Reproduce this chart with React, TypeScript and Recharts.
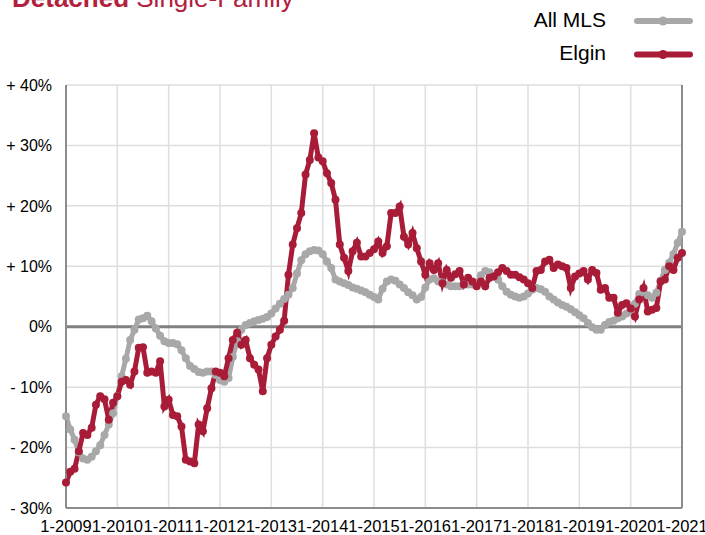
import {
  CartesianGrid,
  Line,
  LineChart,
  ReferenceLine,
  XAxis,
  YAxis,
} from "recharts";

// monthly categories, Jan 2009 .. Jan 2021
const startYear = 2009;
const monthCount = 145;
const months = Array.from(
  { length: monthCount },
  (_, i) => `${(i % 12) + 1}-${startYear + Math.floor(i / 12)}`
);

const yTicks = [-30, -20, -10, 0, 10, 20, 30, 40];

// year-over-year change, %
const allMls = [
  -14.8, -17.0, -18.7, -20.8, -21.8, -22.0, -21.5, -20.6, -19.6, -17.9, -16.2, -14.3,
  -11.5, -8.2, -5.3, -2.2, -0.5, 1.2, 1.4, 1.8, 0.9, -0.3, -1.5, -2.4,
  -2.7, -2.7, -2.9, -3.9, -5.2, -6.5, -7.0, -7.5, -7.6, -7.4, -7.4, -8.0,
  -8.8, -9.1, -8.5, -5.0, -2.4, -0.5, 0.3, 0.6, 0.9, 1.1, 1.3, 1.6,
  2.2, 3.0, 3.8, 4.6, 5.3, 6.4, 8.8, 11.0, 12.0, 12.5, 12.7, 12.6,
  12.0, 10.8, 9.7, 7.8, 7.5, 7.2, 6.9, 6.5, 6.3, 6.0, 5.7, 5.3,
  4.9, 4.5, 6.3, 7.5, 7.8, 7.6, 7.0, 6.4, 5.7, 5.2, 4.5, 4.9,
  6.5, 7.8, 8.0, 7.5, 7.3, 7.0, 6.7, 6.7, 6.7, 7.0, 7.0, 7.0,
  7.2, 8.5, 9.2, 9.0, 8.4, 7.8, 6.7, 5.8, 5.3, 5.0, 4.8, 5.0,
  5.5, 6.1, 6.4, 6.2, 5.8, 5.0, 4.5, 4.0, 3.6, 3.3, 2.9, 2.4,
  1.9, 1.4, 0.6, -0.1, -0.5, -0.5, 0.3, 0.8, 1.0, 1.4, 1.7, 2.2,
  2.4, 3.8, 5.4, 5.8, 5.2, 4.8, 5.6, 7.6, 9.4, 10.6, 12.0, 13.9,
  15.7,
];

const elgin = [
  -25.8, -24.0, -23.5, -20.6, -17.6, -17.9, -16.7, -12.9, -11.5, -12.0, -15.4, -12.6,
  -11.5, -9.1, -8.8, -9.6, -7.4, -3.5, -3.4, -7.6, -7.4, -7.6, -5.7, -13.2,
  -12.1, -14.6, -14.8, -16.5, -22.0, -22.3, -22.6, -16.2, -17.3, -13.5, -10.2, -7.4,
  -7.6, -8.2, -5.2, -2.2, -1.0, -3.0, -2.2, -5.2, -6.3, -7.1, -10.7, -5.2,
  -3.0, -1.6, -0.5, 1.0, 8.6, 13.6, 16.3, 18.8, 25.2, 27.6, 32.0, 28.0,
  27.4, 25.4, 23.8, 21.0, 13.6, 11.4, 9.2, 12.5, 13.9, 11.6, 11.6, 12.2,
  12.8, 14.1, 12.2, 13.3, 18.8, 18.8, 19.9, 14.9, 13.6, 15.5, 13.0, 10.8,
  8.6, 10.5, 9.4, 10.5, 7.2, 9.4, 8.1, 8.7, 9.2, 7.0, 8.1, 7.5,
  6.7, 7.5, 6.7, 8.1, 8.3, 9.0, 9.7, 9.2, 8.6, 8.6, 8.2, 7.8,
  7.2, 6.4, 9.2, 9.4, 10.8, 11.1, 9.7, 10.3, 10.0, 9.7, 6.4, 8.3,
  8.8, 9.2, 7.8, 9.4, 8.9, 6.1, 6.4, 4.8, 4.8, 2.3, 3.6, 3.9,
  3.0, 1.7, 4.5, 6.4, 2.5, 2.8, 3.1, 7.5, 7.8, 10.0, 9.4, 11.4,
  12.2,
];

const GRAY = "#a8a8a8";
const RED = "#a81c38";

const data = months.map((month, i) => ({
  month,
  allMls: allMls[i],
  elgin: elgin[i],
}));

const fmtPct = (v: number) => (v > 0 ? `+ ${v}%` : v < 0 ? `- ${-v}%` : "0%");

export default function App() {
  return (
    <div
      style={{
        position: "absolute",
        left: 0,
        top: 0,
        width: 705,
        height: 535,
        overflow: "hidden",
        background: "#fff",
        fontFamily: "'Liberation Sans', Arial, sans-serif",
      }}
    >
      <LineChart
        width={705}
        height={535}
        data={data}
        margin={{ top: 85, right: 23, bottom: 0, left: 0 }}
      >
        <CartesianGrid stroke="#dedede" strokeWidth={1.5} />
        <XAxis
          dataKey="month"
          interval={11}
          height={27}
          tickLine={false}
          tickSize={0}
          tickMargin={12}
          axisLine={{ stroke: "#8c8c8c", strokeWidth: 2 }}
          tick={{ fill: "#000", fontSize: 16.5 }}
        />
        <YAxis
          type="number"
          domain={[-30, 40]}
          ticks={yTicks}
          width={66}
          tickLine={false}
          tickSize={0}
          tickMargin={14}
          axisLine={{ stroke: "#8c8c8c", strokeWidth: 2 }}
          tick={{ fill: "#000", fontSize: 16 }}
          tickFormatter={fmtPct}
        />
        <ReferenceLine y={0} stroke="#808080" strokeWidth={3} />
        <ReferenceLine x={months[monthCount - 1]} stroke="#8c8c8c" strokeWidth={2} />
        <Line
          dataKey="allMls"
          name="All MLS"
          stroke={GRAY}
          strokeWidth={5}
          dot={{ r: 4, fill: GRAY, stroke: GRAY, strokeWidth: 0 }}
          activeDot={false}
          isAnimationActive={false}
        />
        <Line
          dataKey="elgin"
          name="Elgin"
          stroke={RED}
          strokeWidth={5}
          dot={{ r: 4, fill: RED, stroke: RED, strokeWidth: 0 }}
          activeDot={false}
          isAnimationActive={false}
        />
      </LineChart>
      <svg
        width={705}
        height={80}
        style={{ position: "absolute", left: 0, top: 0, pointerEvents: "none" }}
      >
        <text x={12} y={7} fontSize={26} fill="#b3203c">
          <tspan fontWeight="bold">Detached</tspan>
          <tspan> Single-Family</tspan>
        </text>
        <text x={606} y={26.5} fontSize={21} textAnchor="end" fill="#000">
          All MLS
        </text>
        <line x1={637} y1={21} x2={690} y2={21} stroke={GRAY} strokeWidth={6} strokeLinecap="round" />
        <circle cx={663} cy={21} r={4.5} fill={GRAY} />
        <text x={606} y={59.5} fontSize={21} textAnchor="end" fill="#000">
          Elgin
        </text>
        <line x1={637} y1={54.5} x2={690} y2={54.5} stroke={RED} strokeWidth={6} strokeLinecap="round" />
        <circle cx={663} cy={54.5} r={4.5} fill={RED} />
      </svg>
    </div>
  );
}
